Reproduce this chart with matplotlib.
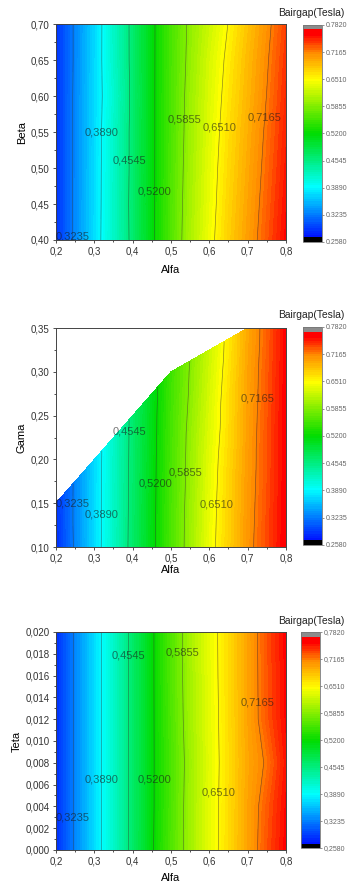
import numpy as np
import matplotlib
matplotlib.use("Agg")
import matplotlib.pyplot as plt
import matplotlib.tri as mtri
from matplotlib.colors import LinearSegmentedColormap, ListedColormap, BoundaryNorm
from matplotlib.ticker import FuncFormatter, MultipleLocator, AutoMinorLocator

plt.rcParams['font.family'] = ['Liberation Sans', 'DejaVu Sans']

# ---- data ----
alfa = [0.20, 0.25, 0.30, 0.35, 0.40, 0.45, 0.50, 0.55, 0.60, 0.65, 0.70, 0.75, 0.80]

beta = [0.40, 0.45, 0.50, 0.55, 0.60, 0.65, 0.70]
b_beta = [
    [0.285, 0.330, 0.374, 0.418, 0.463, 0.513, 0.560, 0.605, 0.642, 0.675, 0.703, 0.730, 0.757],
    [0.285, 0.330, 0.373, 0.418, 0.464, 0.513, 0.559, 0.603, 0.639, 0.672, 0.700, 0.727, 0.754],
    [0.285, 0.329, 0.373, 0.417, 0.463, 0.513, 0.558, 0.601, 0.637, 0.669, 0.697, 0.724, 0.751],
    [0.285, 0.329, 0.372, 0.417, 0.463, 0.513, 0.557, 0.599, 0.634, 0.666, 0.694, 0.721, 0.748],
    [0.285, 0.329, 0.372, 0.413, 0.462, 0.513, 0.557, 0.597, 0.631, 0.662, 0.690, 0.717, 0.745],
    [0.285, 0.328, 0.371, 0.417, 0.463, 0.513, 0.556, 0.594, 0.628, 0.658, 0.687, 0.714, 0.742],
    [0.285, 0.328, 0.370, 0.418, 0.463, 0.513, 0.555, 0.592, 0.622, 0.652, 0.682, 0.710, 0.738],
]

# gama panel: scattered points (region is cut at the upper left)
gama_alfa = [0.2, 0.2,
             0.3, 0.3, 0.3,
             0.4, 0.4, 0.4, 0.4,
             0.5, 0.5, 0.5, 0.5, 0.5,
             0.6, 0.6, 0.6, 0.6, 0.6, 0.6,
             0.7, 0.7, 0.7, 0.7, 0.7, 0.7,
             0.8, 0.8, 0.8, 0.8, 0.8, 0.8]
gama_vals = [0.10, 0.15,
             0.10, 0.15, 0.20,
             0.10, 0.15, 0.20, 0.25,
             0.10, 0.15, 0.20, 0.25, 0.30,
             0.10, 0.15, 0.20, 0.25, 0.30, 0.325,
             0.10, 0.15, 0.20, 0.25, 0.30, 0.35,
             0.10, 0.15, 0.20, 0.25, 0.30, 0.35]
b_gama = [0.283, 0.285,
          0.372, 0.372, 0.371,
          0.466, 0.465, 0.464, 0.463,
          0.557, 0.556, 0.555, 0.553, 0.550,
          0.640, 0.638, 0.635, 0.630, 0.625, 0.622,
          0.708, 0.706, 0.704, 0.702, 0.700, 0.697,
          0.762, 0.761, 0.760, 0.760, 0.759, 0.758]

teta = [0.000, 0.004, 0.008, 0.012, 0.016, 0.020]
b_teta = [
    [0.284, 0.329, 0.373, 0.418, 0.465, 0.516, 0.559, 0.600, 0.636, 0.668, 0.700, 0.732, 0.758],
    [0.284, 0.329, 0.373, 0.418, 0.465, 0.515, 0.557, 0.600, 0.636, 0.667, 0.700, 0.729, 0.756],
    [0.284, 0.329, 0.373, 0.418, 0.465, 0.515, 0.556, 0.598, 0.635, 0.666, 0.698, 0.720, 0.752],
    [0.284, 0.329, 0.373, 0.418, 0.465, 0.515, 0.558, 0.601, 0.636, 0.667, 0.700, 0.730, 0.756],
    [0.284, 0.329, 0.373, 0.418, 0.465, 0.515, 0.560, 0.602, 0.637, 0.668, 0.700, 0.731, 0.757],
    [0.284, 0.329, 0.373, 0.418, 0.465, 0.515, 0.560, 0.603, 0.638, 0.668, 0.700, 0.732, 0.758],
]

major_levels = [0.2580, 0.3235, 0.3890, 0.4545, 0.5200, 0.5855, 0.6510, 0.7165, 0.7820]
line_levels = major_levels[1:-1]

# where the contour labels sit (layout only)
lab_beta = [(0.245, 0.405), (0.318, 0.55), (0.388, 0.51), (0.456, 0.467),
            (0.533, 0.567), (0.63, 0.556), (0.748, 0.57)]
lab_gama = [(0.245, 0.15), (0.318, 0.137), (0.388, 0.232), (0.46, 0.172),
            (0.535, 0.185), (0.626, 0.148), (0.725, 0.27)]
lab_teta = [(0.245, 0.003), (0.318, 0.0065), (0.388, 0.0178), (0.456, 0.0065),
            (0.53, 0.0181), (0.626, 0.0053), (0.73, 0.0135)]

# ---- colours ----
fill_levels = np.linspace(major_levels[0], major_levels[-1], 97)
rainbow = LinearSegmentedColormap.from_list(
    "rb", [(0.0, "#0000ff"), (0.25, "#00ffff"), (0.5, "#00dc00"),
           (0.75, "#ffff00"), (0.875, "#ff8c00"), (0.96, "#ff0000"), (1.0, "#ff0000")])
n_bands = len(fill_levels) - 1
cols = [rainbow(v) for v in np.linspace(0, 1, n_bands)]
cols[0] = cols[1] = (0, 0, 0, 1)
cols[-1] = cols[-2] = (0.55, 0.55, 0.55, 1)
cmap = ListedColormap(cols)
norm = BoundaryNorm(fill_levels, cmap.N)


def comma(fmt):
    return FuncFormatter(lambda v, p: fmt.format(v).replace(".", ","))


fig = plt.figure(figsize=(3.52, 8.83), dpi=100)

panels = [
    dict(ylabel="Beta", ylim=(0.40, 0.70), ystep=0.05, yfmt="{:.2f}", labels=lab_beta,
         ax=[0.159, 0.7282, 0.6534, 0.2446], cax=[0.861, 0.726, 0.054, 0.2458],
         title_y=0.985, xpad=6),
    dict(ylabel="Gama", ylim=(0.10, 0.35), ystep=0.05, yfmt="{:.2f}", labels=lab_gama,
         ax=[0.159, 0.3805, 0.6534, 0.248], cax=[0.861, 0.3828, 0.054, 0.2469],
         title_y=0.643, xpad=1),
    dict(ylabel="Teta", ylim=(0.0, 0.020), ystep=0.002, yfmt="{:.3f}", labels=lab_teta,
         ax=[0.159, 0.0374, 0.6534, 0.2469], cax=[0.855, 0.0397, 0.054, 0.2446],
         title_y=0.297, xpad=5),
]

for i, p in enumerate(panels):
    ax = fig.add_axes(p["ax"])
    if i == 0:
        X, Y = np.meshgrid(alfa, beta)
        Z = np.array(b_beta)
        cf = ax.contourf(X, Y, Z, levels=fill_levels, cmap=cmap, norm=norm)
        cs = ax.contour(X, Y, Z, levels=line_levels, colors="#333333", linewidths=0.45, alpha=0.6)
    elif i == 1:
        tri = mtri.Triangulation(gama_alfa, gama_vals)
        cf = ax.tricontourf(tri, b_gama, levels=fill_levels, cmap=cmap, norm=norm)
        cs = ax.tricontour(tri, b_gama, levels=line_levels, colors="#333333", linewidths=0.45, alpha=0.6)
    else:
        X, Y = np.meshgrid(alfa, teta)
        Z = np.array(b_teta)
        cf = ax.contourf(X, Y, Z, levels=fill_levels, cmap=cmap, norm=norm)
        cs = ax.contour(X, Y, Z, levels=line_levels, colors="#333333", linewidths=0.45, alpha=0.6)

    texts = ax.clabel(cs, inline=False, fontsize=8, colors="#1a1a1a",
                      fmt=lambda v: f"{v:.4f}".replace(".", ","), manual=p["labels"])
    for t in texts:
        t.set_rotation(0)

    ax.set_xlim(0.2, 0.8)
    ax.set_ylim(*p["ylim"])
    ax.xaxis.set_major_locator(MultipleLocator(0.1))
    ax.xaxis.set_minor_locator(AutoMinorLocator(2))
    ax.yaxis.set_major_locator(MultipleLocator(p["ystep"]))
    ax.yaxis.set_minor_locator(AutoMinorLocator(2))
    ax.xaxis.set_major_formatter(comma("{:.1f}"))
    ax.yaxis.set_major_formatter(comma(p["yfmt"]))
    ax.tick_params(which="both", direction="out", labelsize=7, colors="#333333", width=0.6, pad=2)
    ax.tick_params(which="major", length=2.5)
    ax.tick_params(which="minor", length=1.5)
    for s in ax.spines.values():
        s.set_color("#444444")
        s.set_linewidth(0.7)
    ax.set_xlabel("Alfa", fontsize=8, labelpad=p["xpad"])
    ax.set_ylabel(p["ylabel"], fontsize=8, labelpad=3)

    cax = fig.add_axes(p["cax"])
    cb = fig.colorbar(cf, cax=cax, ticks=major_levels, drawedges=False)
    cb.minorticks_off()
    if cb.solids is not None:
        cb.solids.set_edgecolor("face")
        cb.solids.set_linewidth(0.3)
    cb.ax.yaxis.set_major_formatter(comma("{:.4f}"))
    cb.ax.tick_params(which="major", labelsize=5, colors="#666666", length=1.5, width=0.5, pad=1)
    cb.ax.tick_params(which="minor", length=0, width=0)
    cb.outline.set_edgecolor("#777777")
    cb.outline.set_linewidth(0.6)
    fig.text(0.884, p["title_y"], "Bairgap(Tesla)", fontsize=7.4, ha="center",
             va="center", color="#222222")

fig.savefig("out.png", dpi=100)
